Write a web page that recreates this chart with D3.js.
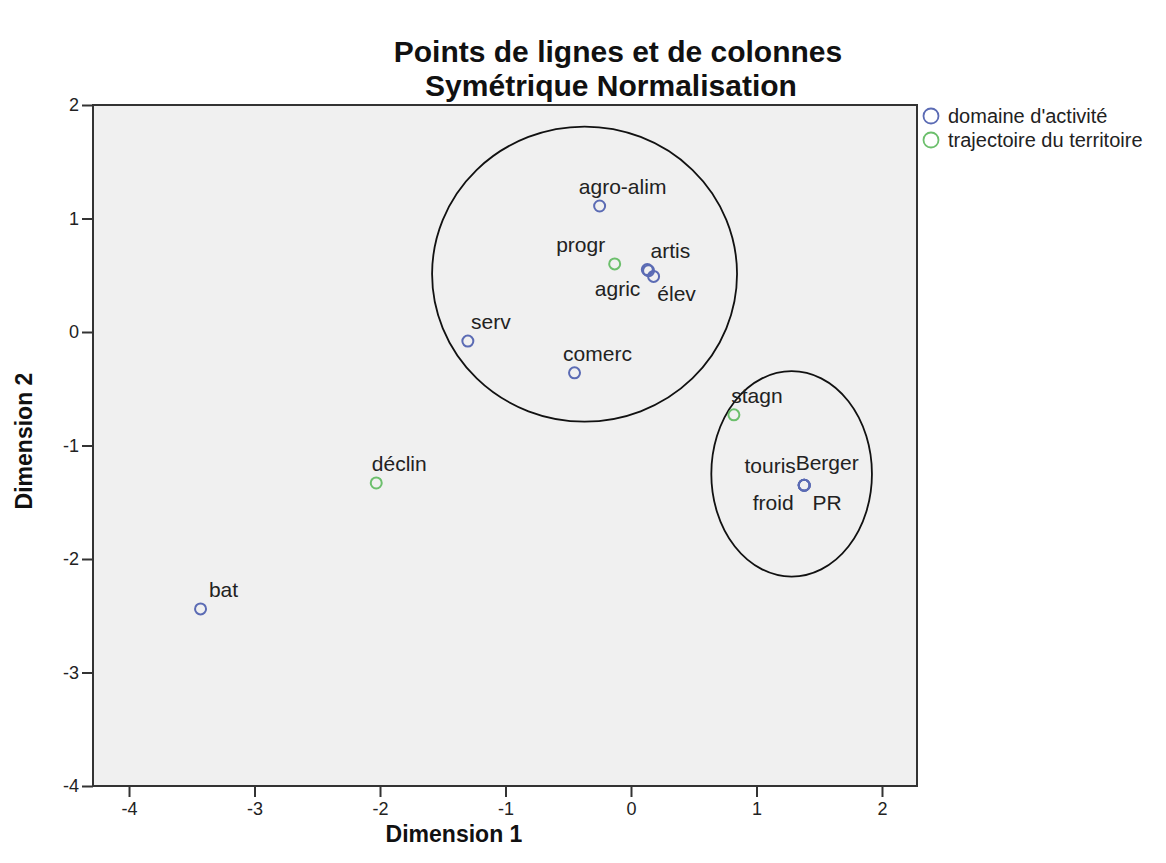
<!DOCTYPE html>
<html>
<head>
<meta charset="utf-8">
<script src="https://cdn.jsdelivr.net/npm/d3@7"></script>
<style>
body { margin: 0; background: #fff; }
svg text { font-family: "Liberation Sans", Arial, sans-serif; }
</style>
</head>
<body>
<div id="plot"></div>
<script>
// points (Dimension 1, Dimension 2)
var labels = ["agro-alim", "progr", "artis", "agric", "élev", "serv", "comerc", "stagn",
              "touris", "Berger", "froid", "PR", "déclin", "bat"];
var dim1 = [-0.25, -0.13, 0.13, 0.14, 0.18, -1.30, -0.45, 0.82, 1.38, 1.38, 1.38, 1.38, -2.03, -3.43];
var dim2 = [1.11, 0.60, 0.55, 0.54, 0.49, -0.08, -0.36, -0.73, -1.35, -1.35, -1.35, -1.35, -1.33, -2.44];
var group = ["act", "traj", "act", "act", "act", "act", "act", "traj",
             "act", "act", "act", "act", "traj", "act"];

var legendNames = ["domaine d'activité", "trajectoire du territoire"];
var tickValues = [-4, -3, -2, -1, 0, 1, 2];

// hand drawn ellipses: centre x, centre y, radius x, radius y (data units)
var ellipseCx = [-0.37, 1.28];
var ellipseCy = [0.51, -1.25];
var ellipseRx = [1.215, 0.64];
var ellipseRy = [1.30, 0.905];

function colorScale(g)
{
    if(g == "traj")
    {
        return '#6cbf6c';
    }
    return '#5b6bb4';
}

// where the label sits around its point
var labelPlace = {
    "progr": "nw", "agric": "sw", "élev": "se",
    "touris": "nw", "froid": "sw", "PR": "se"
};
function labelDx(name)
{
    var p = labelPlace[name] || "ne";
    if(p == "nw") return -34;
    if(p == "sw") return -31;
    return 23;
}
function labelDy(name)
{
    var p = labelPlace[name] || "ne";
    if(p == "sw" || p == "se") return 25;
    if(name == "Berger") return -15;
    return -12;
}

var W = 1166, H = 863;
var margin = {top: 105, right: 249, bottom: 77, left: 93},
    width = W - margin.left - margin.right,
    height = H - margin.top - margin.bottom;

var svg = d3.select("#plot")
    .append("svg")
    .attr("width", W)
    .attr("height", H);

var g = svg.append("g")
    .attr("transform", "translate(" + margin.left + "," + margin.top + ")");

var x = d3.scaleLinear().domain([-4.287, 2.279]).range([0, width]);
var y = d3.scaleLinear().domain([-4, 2]).range([height, 0]);

g.append("rect")
    .attr("width", width)
    .attr("height", height)
    .style("fill", "#f0f0f0");

// axes
var xAxis = g.append("g")
    .attr("transform", "translate(0," + height + ")")
    .call(d3.axisBottom(x).tickValues(tickValues).tickSize(11).tickPadding(5).tickFormat(function(d) { return String(d); }));
var yAxis = g.append("g")
    .call(d3.axisLeft(y).tickValues(tickValues).tickSize(11).tickPadding(3).tickFormat(function(d) { return String(d); }));

[xAxis, yAxis].forEach(function(a) {
    a.select(".domain").remove();
    a.selectAll("line").style("stroke", "#333").style("stroke-width", 2);
    a.selectAll("text").style("font-size", "18px").style("fill", "#222")
        .style("font-family", "'Liberation Sans', Arial, sans-serif");
});

g.append("rect")
    .attr("width", width)
    .attr("height", height)
    .style("fill", "none")
    .style("stroke", "#333")
    .style("stroke-width", 2);

// ellipses
g.selectAll("ellipse.ring")
    .data(ellipseCx)
    .enter().append("ellipse")
    .attr("cx", function(d) { return x(d); })
    .attr("cy", function(d, i) { return y(ellipseCy[i]); })
    .attr("rx", function(d, i) { return x(ellipseRx[i]) - x(0); })
    .attr("ry", function(d, i) { return y(0) - y(ellipseRy[i]); })
    .style("fill", "none")
    .style("stroke", "#111")
    .style("stroke-width", 1.8);

// points
g.selectAll("circle.pt")
    .data(labels)
    .enter().append("circle")
    .attr("cx", function(d, i) { return x(dim1[i]); })
    .attr("cy", function(d, i) { return y(dim2[i]); })
    .attr("r", 5.5)
    .style("fill", "none")
    .style("stroke", function(d, i) { return colorScale(group[i]); })
    .style("stroke-width", 2);

g.selectAll("text.lbl")
    .data(labels)
    .enter().append("text")
    .attr("x", function(d, i) { return x(dim1[i]) + labelDx(d); })
    .attr("y", function(d, i) { return y(dim2[i]) + labelDy(d); })
    .style("text-anchor", "middle")
    .style("font-size", "21px")
    .style("fill", "#222")
    .text(function(d) { return d; });

// titles
svg.append("text")
    .attr("x", 618).attr("y", 62)
    .style("text-anchor", "middle")
    .style("font-size", "30px").style("font-weight", "bold").style("fill", "#111")
    .text("Points de lignes et de colonnes");
svg.append("text")
    .attr("x", 611).attr("y", 96)
    .style("text-anchor", "middle")
    .style("font-size", "30px").style("font-weight", "bold").style("fill", "#111")
    .text("Symétrique Normalisation");

svg.append("text")
    .attr("x", 454).attr("y", 842)
    .style("text-anchor", "middle")
    .style("font-size", "23px").style("font-weight", "bold").style("fill", "#111")
    .text("Dimension 1");
svg.append("text")
    .attr("transform", "translate(32,441) rotate(-90)")
    .style("text-anchor", "middle")
    .style("font-size", "23px").style("font-weight", "bold").style("fill", "#111")
    .text("Dimension 2");

// legend
var legend = svg.selectAll("g.leg")
    .data(legendNames)
    .enter().append("g")
    .attr("transform", function(d, i) { return "translate(931," + (116 + i * 24) + ")"; });
legend.append("circle")
    .attr("r", 7.5)
    .style("fill", "none")
    .style("stroke", function(d, i) { return colorScale(i == 0 ? "act" : "traj"); })
    .style("stroke-width", 1.8);
legend.append("text")
    .attr("x", 17).attr("y", 7)
    .style("font-size", "20px")
    .style("fill", "#222")
    .text(function(d) { return d; });
</script>
</body>
</html>
